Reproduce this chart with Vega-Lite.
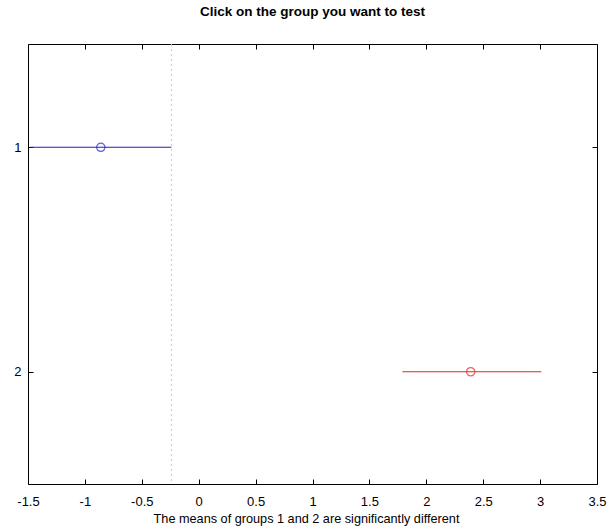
{
  "$schema": "https://vega.github.io/schema/vega-lite/v6.json",
  "autosize": "none",
  "width": 569,
  "height": 440,
  "padding": {"left": 28, "top": 44, "right": 11, "bottom": 47},
  "background": "white",
  "title": {"text": "Click on the group you want to test", "font": "Liberation Sans", "fontSize": 13.5, "fontWeight": "bold", "color": "black", "offset": 25, "anchor": "middle"},
  "config": {
    "view": {"stroke": "black", "strokeWidth": 1},
    "axis": {"labelFont": "Liberation Sans", "labelFontSize": 13, "labelColor": "black", "titleFont": "Liberation Sans", "titleFontSize": 12.7, "titleFontWeight": "normal", "titleColor": "black", "domainColor": "black", "tickColor": "black", "grid": false, "tickSize": -5, "labelExpr": "datum.value + ''"}
  },
  "datasets": {
    "groups": [
      {"group": 1, "mean": -0.86, "lo": -1.48, "hi": -0.24, "col": "blue"},
      {"group": 2, "mean": 2.39, "lo": 1.79, "hi": 3.01, "col": "red"}
    ],
    "ref": [{"x": -0.24}]
  },
  "layer": [
    {
      "data": {"name": "ref"},
      "mark": {"type": "rule", "color": "#c8c8c8", "strokeDash": [2, 3], "strokeWidth": 1},
      "encoding": {
        "x": {"field": "x", "type": "quantitative", "scale": {"domain": [-1.5, 3.5], "nice": false, "zero": false}, "axis": null}
      }
    },
    {
      "data": {"name": "groups"},
      "mark": {"type": "rule", "strokeWidth": 1.2},
      "encoding": {
        "x": {"field": "lo", "type": "quantitative", "axis": {"orient": "bottom", "values": [-1.5, -1, -0.5, 0, 0.5, 1, 1.5, 2, 2.5, 3, 3.5], "title": "The means of groups 1 and 2 are significantly different", "labelPadding": 16, "titlePadding": 4, "titleX": 278, "titleAlign": "center", "domain": false, "labelFlush": false}},
        "x2": {"field": "hi"},
        "y": {"field": "group", "type": "quantitative", "scale": {"domain": [0.54, 2.5], "reverse": true, "nice": false, "zero": false}, "axis": {"orient": "left", "values": [1, 2], "title": null, "labelPadding": 12, "domain": false}},
        "color": {"field": "col", "type": "nominal", "scale": {"domain": ["blue", "red"], "range": ["#1c1cc8", "#e02424"]}, "legend": null}
      }
    },
    {
      "data": {"name": "groups"},
      "mark": {"type": "point", "shape": "circle", "filled": false, "size": 70, "strokeWidth": 1.2},
      "encoding": {
        "x": {"field": "mean", "type": "quantitative", "axis": {"orient": "top", "labels": false, "values": [-1.5, -1, -0.5, 0, 0.5, 1, 1.5, 2, 2.5, 3, 3.5], "title": null, "domain": false}},
        "y": {"field": "group", "type": "quantitative", "axis": {"orient": "right", "values": [1, 2], "labels": false, "title": null, "domain": false}},
        "color": {"field": "col", "type": "nominal", "legend": null}
      }
    }
  ]
}
